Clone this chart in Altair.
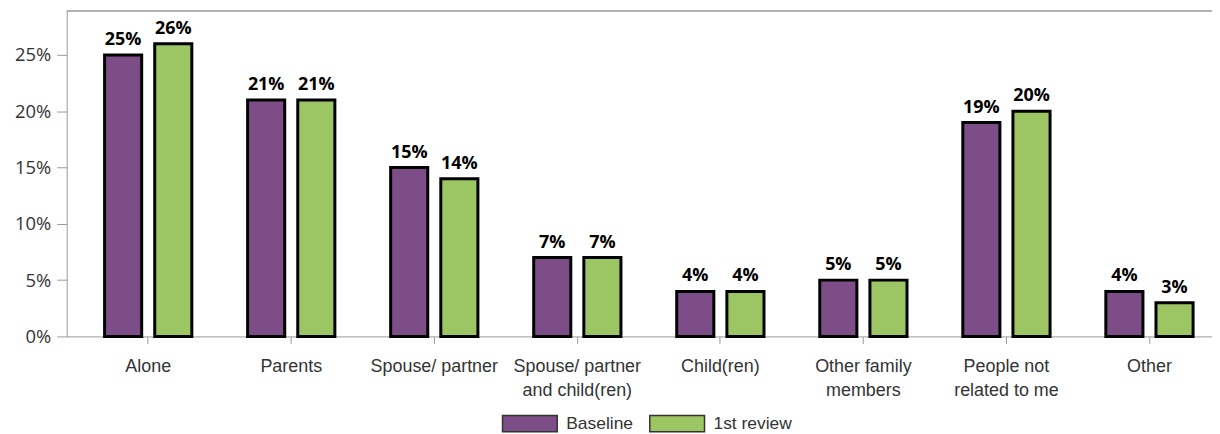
import altair as alt
import pandas as pd

categories = ["Alone", "Parents", "Spouse/ partner", "Spouse/ partner\nand child(ren)",
              "Child(ren)", "Other family\nmembers", "People not\nrelated to me", "Other"]
series = ["Baseline", "1st review"]
baseline = [0.25, 0.21, 0.15, 0.07, 0.04, 0.05, 0.19, 0.04]
review1 = [0.26, 0.21, 0.14, 0.07, 0.04, 0.05, 0.20, 0.03]
colors = ["#7C4D86", "#9CC563"]
y_ticks = [0, 0.05, 0.10, 0.15, 0.20, 0.25]

rows = []
for c, b, r in zip(categories, baseline, review1):
    rows.append({"category": c, "series": series[0], "value": b})
    rows.append({"category": c, "series": series[1], "value": r})
df = pd.DataFrame(rows)

W, H = 1151, 327
AX = "#999999"
TXT = "#333333"

x = alt.X("category:N", sort=categories,
          scale=alt.Scale(paddingInner=0.39, paddingOuter=0.1985, align=0.667),
          axis=alt.Axis(title=None, labelAngle=0, labelExpr="split(datum.label, '\\n')",
                        labelFont="Liberation Sans", labelFontSize=18, labelColor=TXT,
                        labelLineHeight=24, tickSize=7, tickColor=AX, domainColor=AX,
                        labelPadding=14, labelLimit=0))
xo = alt.XOffset("series:N", sort=series, scale=alt.Scale(paddingInner=0.26, paddingOuter=0))
y = alt.Y("value:Q", scale=alt.Scale(domain=[0, 0.289], nice=False),
          axis=alt.Axis(values=y_ticks, format=".0%", title=None, grid=False, tickSize=10,
                        labelPadding=6, labelFont="Open Sans", labelFontSize=18.5,
                        labelColor=TXT, tickColor=AX, domainColor=AX))

bars = alt.Chart(df).mark_bar(stroke="black", strokeWidth=3).encode(
    x=x, xOffset=xo, y=y,
    color=alt.Color("series:N", sort=series,
                    scale=alt.Scale(domain=series, range=colors),
                    legend=alt.Legend(title=None, orient="none", legendX=437, legendY=386,
                                      direction="horizontal",
                                      symbolType="M-1,-0.3H1V0.3H-1Z", symbolSize=3025,
                                      symbolStrokeColor="#333333", symbolStrokeWidth=1.5,
                                      symbolOpacity=1,
                                      labelFont="Liberation Sans", labelFontSize=17.5,
                                      labelColor=TXT, labelOffset=8, columnPadding=13,
                                      padding=0)),
)

labels = alt.Chart(df).mark_text(dy=-10, baseline="alphabetic", font="Open Sans",
                                 fontWeight="bold", fontSize=18, color="black").encode(
    x=x, xOffset=xo, y=y, text=alt.Text("value:Q", format=".0%"))

top = alt.Chart(pd.DataFrame({"v": [0]})).mark_rule(color=AX, strokeWidth=1.5).encode(
    x=alt.value(0), x2=alt.value(W), y=alt.value(0))

chart = alt.layer(bars, labels, top).properties(
    width=W, height=H,
    padding={"left": 59, "top": 2, "right": 0, "bottom": 96},
    autosize=alt.AutoSizeParams(type="none"),
).configure_view(stroke=None)

chart.save("out.html", embed_options={"renderer": "svg", "actions": False})
